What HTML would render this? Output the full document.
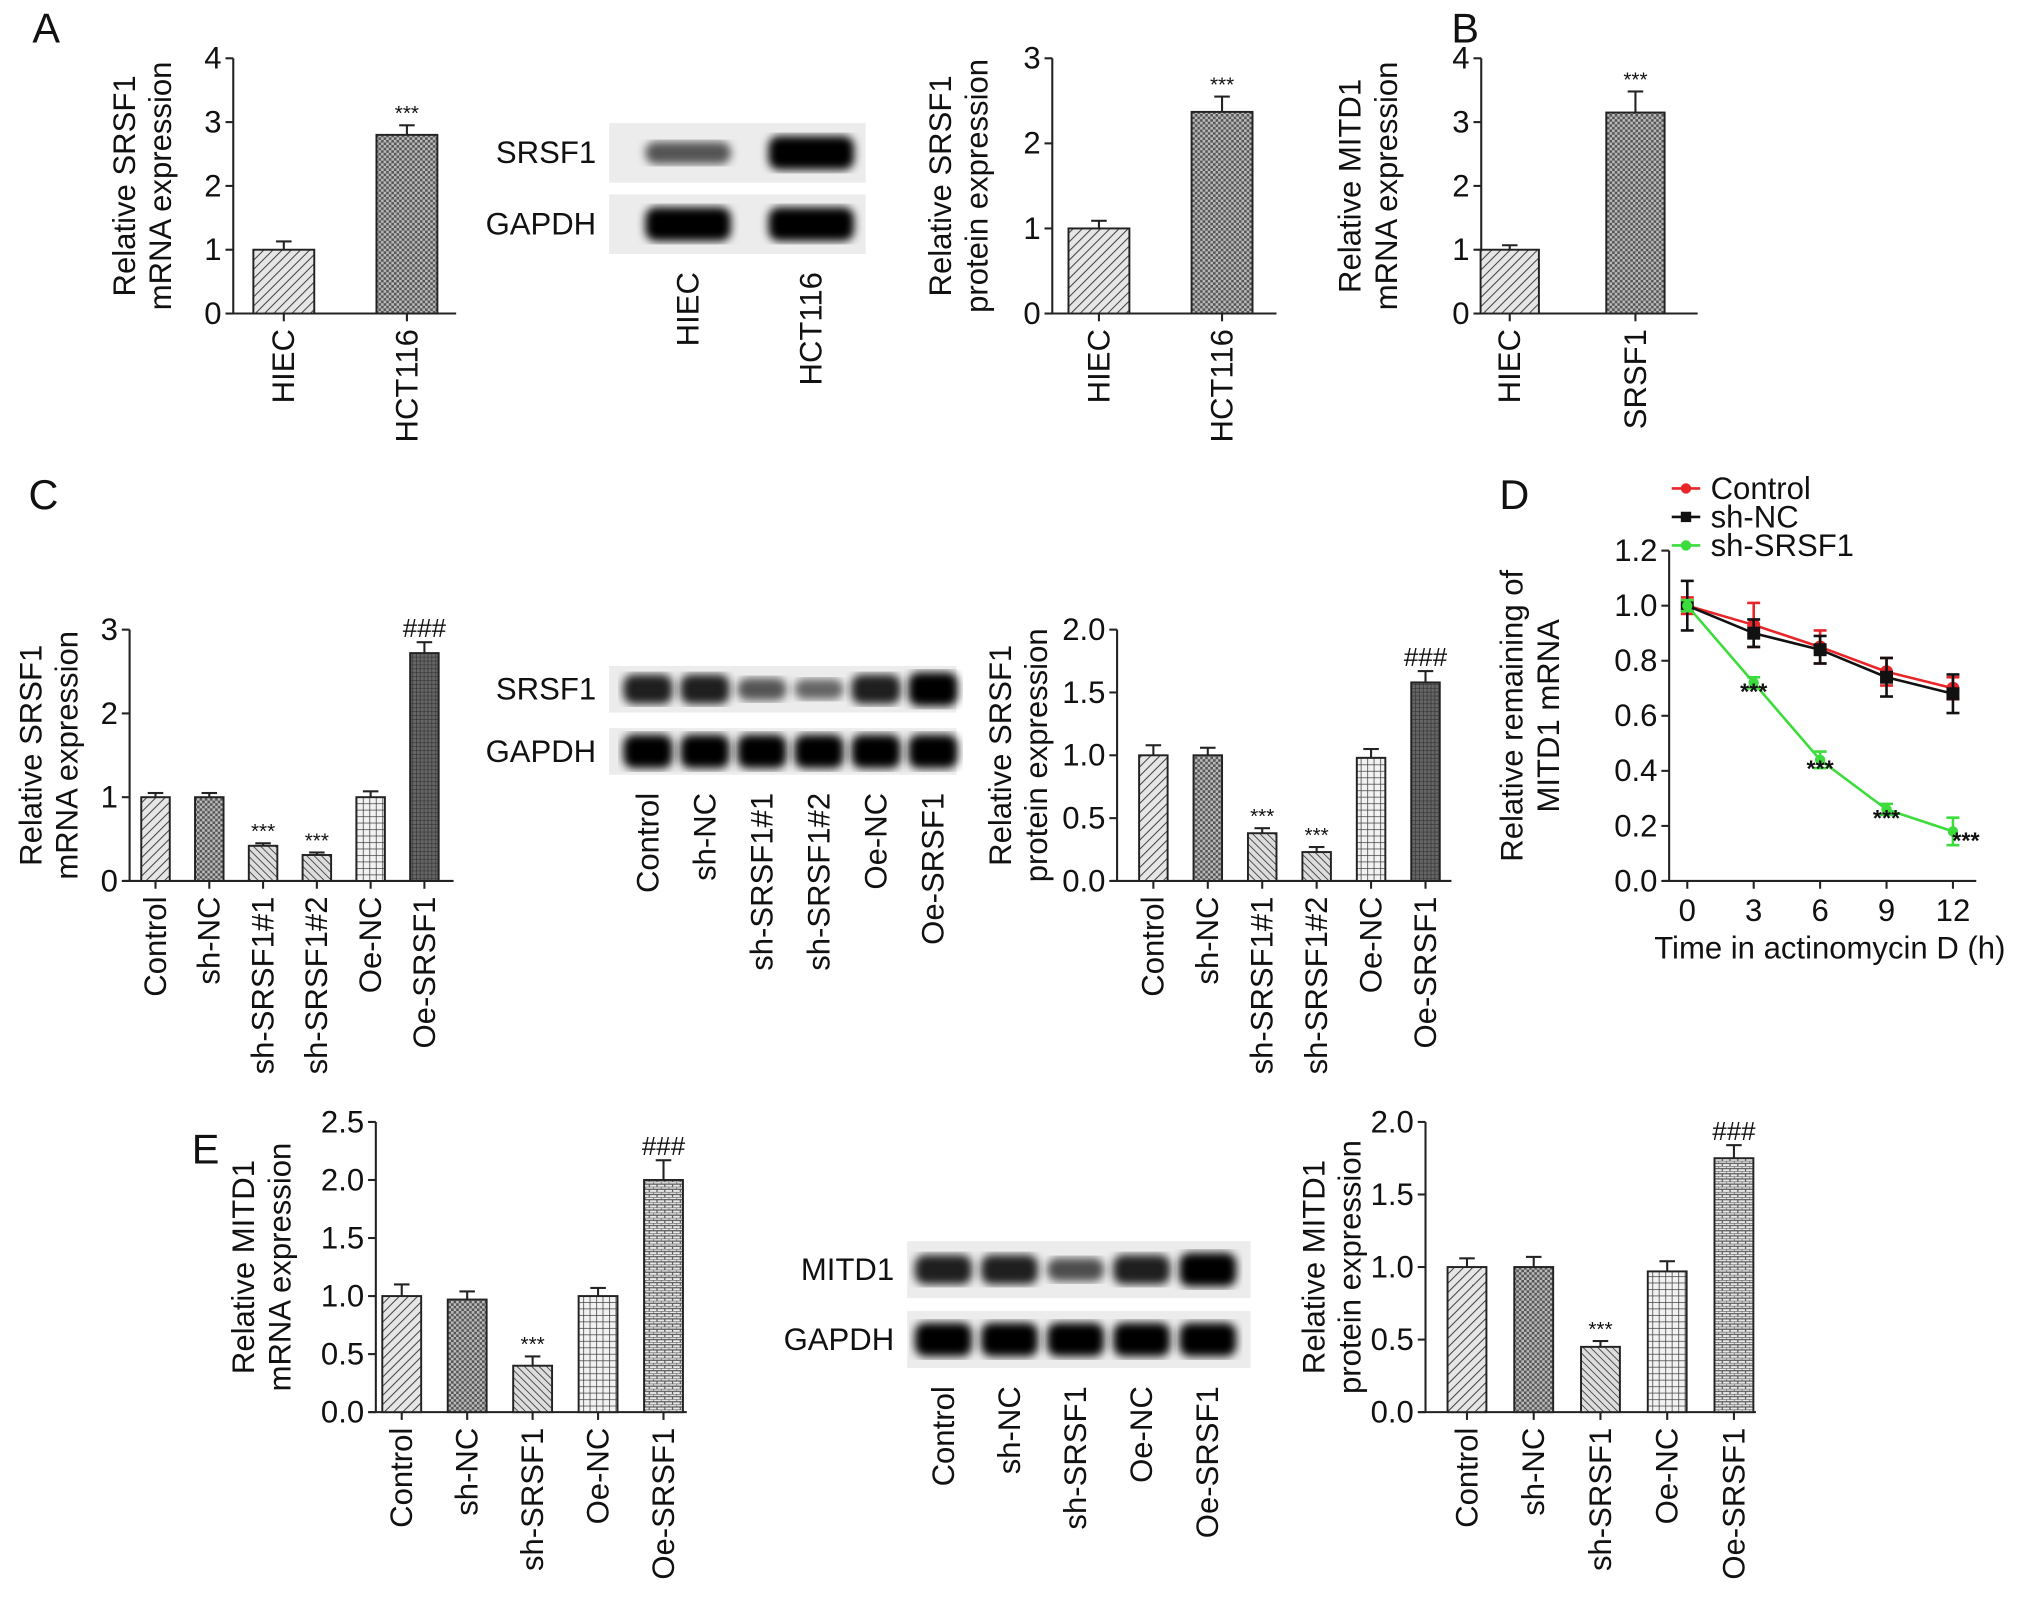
<!DOCTYPE html>
<html><head><meta charset="utf-8"><style>
html,body{margin:0;padding:0;background:#fff}
svg{display:block}
text{font-family:"Liberation Sans",Arial,sans-serif;fill:#111}
</style></head><body>
<svg id="fig" width="2032" height="1600" viewBox="0 0 1568 1235" preserveAspectRatio="none" xmlns="http://www.w3.org/2000/svg">
<defs>
<pattern id="pDiag" width="5" height="5" patternUnits="userSpaceOnUse" patternTransform="rotate(45)"><rect width="5" height="5" fill="#e6e6e6"/><line x1="0" y1="0" x2="0" y2="5" stroke="#444" stroke-width="1.6"/></pattern>
<pattern id="pDiag2" width="4" height="4" patternUnits="userSpaceOnUse" patternTransform="rotate(-45)"><rect width="4" height="4" fill="#ddd"/><line x1="0" y1="0" x2="0" y2="4" stroke="#444" stroke-width="1.4"/></pattern>
<pattern id="pCheck" width="4" height="4" patternUnits="userSpaceOnUse"><rect width="4" height="4" fill="#555"/><rect width="2" height="2" fill="#bbb"/><rect x="2" y="2" width="2" height="2" fill="#bbb"/></pattern>
<pattern id="pGrid" width="5" height="5" patternUnits="userSpaceOnUse"><rect width="5" height="5" fill="#f2f2f2"/><path d="M0 0H5M0 0V5" stroke="#444" stroke-width="1.2"/></pattern>
<pattern id="pBrick" width="6" height="4" patternUnits="userSpaceOnUse"><rect width="6" height="4" fill="#e8e8e8"/><path d="M0 0H6M0 2H6M0 0V2M3 2V4" stroke="#555" stroke-width="0.9"/></pattern>
<pattern id="pDark" width="3" height="3" patternUnits="userSpaceOnUse"><rect width="3" height="3" fill="#666"/><path d="M0 0H3M0 0V3" stroke="#333" stroke-width="1"/></pattern>
<filter id="blur"><feGaussianBlur stdDeviation="3.5"/></filter>
</defs>
</svg>
<script>
// ---- data ----
const aCats=["HIEC","HCT116"];
const aMrna=[1.0,2.8]; const aMrnaErr=[0.13,0.15];
const aProt=[1.0,2.37]; const aProtErr=[0.09,0.18];
const bCats=["HIEC","SRSF1"];
const bMrna=[1.0,3.15]; const bMrnaErr=[0.07,0.33];
const cCats=["Control","sh-NC","sh-SRSF1#1","sh-SRSF1#2","Oe-NC","Oe-SRSF1"];
const cMrna=[1.0,1.0,0.42,0.31,1.0,2.72]; const cMrnaErr=[0.05,0.05,0.03,0.03,0.07,0.13];
const cProt=[1.0,1.0,0.38,0.23,0.98,1.58]; const cProtErr=[0.08,0.06,0.04,0.04,0.07,0.09];
const cMarks=["","","***","***","","###"];
const eCats=["Control","sh-NC","sh-SRSF1","Oe-NC","Oe-SRSF1"];
const eMrna=[1.0,0.97,0.40,1.0,2.0]; const eMrnaErr=[0.1,0.07,0.08,0.07,0.17];
const eProt=[1.0,1.0,0.45,0.97,1.75]; const eProtErr=[0.06,0.07,0.04,0.07,0.09];
const eMarks=["","","***","","###"];
const dTimes=[0,3,6,9,12];
const dControl=[1.0,0.93,0.85,0.76,0.70]; const dControlErr=[0.03,0.08,0.06,0.05,0.04];
const dShNC=[1.0,0.90,0.84,0.74,0.68]; const dShNCErr=[0.09,0.05,0.05,0.07,0.07];
const dShSRSF1=[1.0,0.72,0.44,0.26,0.18]; const dShSRSF1Err=[0.02,0.02,0.03,0.02,0.05];
const blotA1=[0.45,1.0]; const blotA2=[1.0,1.0];
const blotC1=[0.8,0.8,0.45,0.35,0.8,1.0]; const blotC2=[1,1,1,1,1,1];
const blotE1=[0.8,0.8,0.5,0.8,1.0]; const blotE2=[1,1,1,1,1];

const svg=document.getElementById('fig'); const NS="http://www.w3.org/2000/svg";
const FS=24;
function el(tag,attrs,parent){const e=document.createElementNS(NS,tag);for(const k in attrs)e.setAttribute(k,attrs[k]);(parent||svg).appendChild(e);return e;}
function txt(s,attrs,parent){const t=el('text',attrs,parent);t.textContent=s;return t;}

function letter(s,x,y){const t=txt(s,{x:x,y:y,'font-size':32});

}
letter("A",25,33);letter("B",1120,33);letter("C",22,393);letter("D",1157,393);letter("E",148,898);

function barChart(name,o){
 const g=el('g',{});  
 const y=v=>o.y0-(v/o.max)*(o.y0-o.y1);
 el('line',{x1:o.ax,y1:o.y1,x2:o.ax,y2:o.y0,stroke:'#222','stroke-width':1.6},g);
 el('line',{x1:o.ax-5,y1:o.y0,x2:o.xEnd,y2:o.y0,stroke:'#222','stroke-width':1.6},g);
 o.ticks.forEach(tv=>{el('line',{x1:o.ax-6,y1:y(tv),x2:o.ax,y2:y(tv),stroke:'#222','stroke-width':1.6},g);
  const t=txt(o.fmt(tv),{x:o.ax-9,y:y(tv)+8,'font-size':FS,'text-anchor':'end'},g);
  });
 o.vals.forEach((v,i)=>{const cx=o.first+i*o.step;
  const r=el('rect',{x:cx-o.bw/2,y:y(v),width:o.bw,height:o.y0-y(v),fill:'url(#'+o.pats[i]+')',stroke:'#222','stroke-width':1.5},g);
  
  const ey=y(v+o.err[i]);
  el('line',{x1:cx,y1:y(v),x2:cx,y2:ey,stroke:'#222','stroke-width':1.6},g);
  el('line',{x1:cx-6,y1:ey,x2:cx+6,y2:ey,stroke:'#222','stroke-width':1.6},g);
  el('line',{x1:cx,y1:o.y0,x2:cx,y2:o.y0+6,stroke:'#222','stroke-width':1.6},g);
  const m=o.marks?o.marks[i]:"";
  if(m){const a=txt(m,{x:cx,y:ey-4,'font-size':m[0]=='#'?20:16,'text-anchor':'middle'},g);}
  const lx=cx+8, ly=o.y0+12;
  const l=txt(o.cats[i],{x:lx,y:ly,'font-size':FS,'text-anchor':'end',transform:'rotate(-90 '+lx+' '+ly+')'},g);
  });
 const my=(o.y0+o.y1)/2;
 o.ylab.forEach((s,k)=>{const lx=o.labX+k*28;const t=txt(s,{x:lx,y:my,'font-size':FS,'text-anchor':'middle',transform:'rotate(-90 '+lx+' '+my+')'},g);
  });
}
const i0=v=>String(v), f1=v=>v.toFixed(1);
barChart('chart-a-mrna',{ax:180,y0:242,y1:45,max:4,xEnd:352,first:219,step:95,bw:47,vals:aMrna,err:aMrnaErr,cats:aCats,pats:['pDiag','pCheck'],marks:["","***"],ticks:[0,1,2,3,4],fmt:i0,ylab:["Relative SRSF1","mRNA expression"],labX:104});
barChart('chart-a-protein',{ax:812,y0:242,y1:45,max:3,xEnd:985,first:848,step:95,bw:47,vals:aProt,err:aProtErr,cats:aCats,pats:['pDiag','pCheck'],marks:["","***"],ticks:[0,1,2,3],fmt:i0,ylab:["Relative SRSF1","protein expression"],labX:734});
barChart('chart-b-mrna',{ax:1143,y0:242,y1:45,max:4,xEnd:1310,first:1165,step:97,bw:45,vals:bMrna,err:bMrnaErr,cats:bCats,pats:['pDiag','pCheck'],marks:["","***"],ticks:[0,1,2,3,4],fmt:i0,ylab:["Relative MITD1","mRNA expression"],labX:1050});
barChart('chart-c-mrna',{ax:100,y0:680,y1:486,max:3,xEnd:350,first:120,step:41.5,bw:22,vals:cMrna,err:cMrnaErr,cats:cCats,pats:['pDiag','pCheck','pDiag2','pDiag2','pGrid','pDark'],marks:cMarks,ticks:[0,1,2,3],fmt:i0,ylab:["Relative SRSF1","mRNA expression"],labX:32});
barChart('chart-c-protein',{ax:862,y0:680,y1:486,max:2,xEnd:1120,first:890,step:42,bw:22,vals:cProt,err:cProtErr,cats:cCats,pats:['pDiag','pCheck','pDiag2','pDiag2','pGrid','pDark'],marks:cMarks,ticks:[0,0.5,1,1.5,2],fmt:f1,ylab:["Relative SRSF1","protein expression"],labX:780});
barChart('chart-e-mrna',{ax:290,y0:1090,y1:866,max:2.5,xEnd:530,first:310,step:50.5,bw:30,vals:eMrna,err:eMrnaErr,cats:eCats,pats:['pDiag','pCheck','pDiag2','pGrid','pBrick'],marks:eMarks,ticks:[0,0.5,1,1.5,2,2.5],fmt:f1,ylab:["Relative MITD1","mRNA expression"],labX:196});
barChart('chart-e-protein',{ax:1100,y0:1090,y1:866,max:2,xEnd:1355,first:1132,step:51.5,bw:30,vals:eProt,err:eProtErr,cats:eCats,pats:['pDiag','pCheck','pDiag2','pGrid','pBrick'],marks:eMarks,ticks:[0,0.5,1,1.5,2],fmt:f1,ylab:["Relative MITD1","protein expression"],labX:1022});

function blot(name,o){
 const g=el('g',{});  
 [o.r1,o.r2].forEach((row,k)=>{const ry=k?o.y2:o.y1;
  el('rect',{x:o.x0,y:ry,width:o.x1-o.x0,height:o.h,fill:'#ececec'},g);
  const lab=txt(k?'GAPDH':o.name1,{x:o.x0-10,y:ry+o.h/2+8,'font-size':FS,'text-anchor':'end'},g);
  
  row.forEach((v,i)=>{const cx=o.first+i*o.step;
   const b=el('rect',{x:cx-o.bw/2,y:ry+o.h/2-(5+8*v),width:o.bw,height:10+16*v,rx:8,fill:'#000','fill-opacity':0.35+0.65*v,filter:'url(#blur)'},g);
   });});
 o.cats.forEach((c,i)=>{const cx=o.first+i*o.step+8, ly=o.y2+o.h+14;
  const l=txt(c,{x:cx,y:ly,'font-size':FS,'text-anchor':'end',transform:'rotate(-90 '+cx+' '+ly+')'},g);
  });
}
blot('blot-a',{x0:470,x1:668,y1:95,y2:150,h:46,first:531,step:95,bw:66,r1:blotA1,r2:blotA2,cats:aCats,name1:'SRSF1'});
blot('blot-c',{x0:470,x1:738,y1:514,y2:562,h:36,first:500,step:44,bw:38,r1:blotC1,r2:blotC2,cats:cCats,name1:'SRSF1'});
blot('blot-e',{x0:700,x1:965,y1:958,y2:1012,h:44,first:728,step:51,bw:44,r1:blotE1,r2:blotE2,cats:eCats,name1:'MITD1'});

// Panel D line chart
(function(){
 const g=el('g',{});  
 const ax=1288,y0=680,y1=425,x0=1302,x12=1507;
 const X=t=>x0+t/12*(x12-x0), Y=v=>y0-v/1.2*(y0-y1);
 el('line',{x1:ax,y1:y1,x2:ax,y2:y0,stroke:'#222','stroke-width':1.6},g);
 el('line',{x1:ax-5,y1:y0,x2:1525,y2:y0,stroke:'#222','stroke-width':1.6},g);
 [0,0.2,0.4,0.6,0.8,1.0,1.2].forEach(v=>{el('line',{x1:ax-6,y1:Y(v),x2:ax,y2:Y(v),stroke:'#222','stroke-width':1.6},g);
  const t=txt(v.toFixed(1),{x:ax-9,y:Y(v)+8,'font-size':FS,'text-anchor':'end'},g);});
 dTimes.forEach(t=>{el('line',{x1:X(t),y1:y0,x2:X(t),y2:y0+6,stroke:'#222','stroke-width':1.6},g);
  const l=txt(String(t),{x:X(t),y:y0+31,'font-size':FS,'text-anchor':'middle'},g);});
 const xt=txt('Time in actinomycin D (h)',{x:1412,y:740,'font-size':FS,'text-anchor':'middle'},g);
 const my=(y0+y1)/2;
 ["Relative remaining of","MITD1 mRNA"].forEach((s,k)=>{const lx=1175+k*28;const t=txt(s,{x:lx,y:my,'font-size':FS,'text-anchor':'middle',transform:'rotate(-90 '+lx+' '+my+')'},g);});
 const series=[[dControl,dControlErr,'#e8262a','Control','c'],[dShNC,dShNCErr,'#111','sh-NC','s'],[dShSRSF1,dShSRSF1Err,'#3cdc3c','sh-SRSF1','t']];
 series.forEach(([vals,err,col,name,mk],si)=>{
  const p=el('polyline',{points:vals.map((v,i)=>X(dTimes[i])+','+Y(v)).join(' '),fill:'none',stroke:col,'stroke-width':2},g);
  
  vals.forEach((v,i)=>{const cx=X(dTimes[i]);
   el('line',{x1:cx,y1:Y(v-err[i]),x2:cx,y2:Y(v+err[i]),stroke:col,'stroke-width':2},g);
   el('line',{x1:cx-5,y1:Y(v-err[i]),x2:cx+5,y2:Y(v-err[i]),stroke:col,'stroke-width':2},g);
   el('line',{x1:cx-5,y1:Y(v+err[i]),x2:cx+5,y2:Y(v+err[i]),stroke:col,'stroke-width':2},g);
   const m=mk=='s'?el('rect',{x:cx-5,y:Y(v)-5,width:10,height:10,fill:col},g):el('circle',{cx:cx,cy:Y(v),r:mk=='t'?4:5,fill:col},g);
   
   if(mk=='t'&&i>0){const a=txt('***',{x:cx+(i==4?10:0),y:Y(v)+13,'font-size':18,'text-anchor':'middle','font-weight':'bold'},g);}
  });
  const ly=377+si*22;
  const lg=el('g',{},g);
  el('line',{x1:1290,y1:ly,x2:1312,y2:ly,stroke:col,'stroke-width':2},lg);
  if(mk=='s')el('rect',{x:1297,y:ly-4,width:8,height:8,fill:col},lg);else el('circle',{cx:1301,cy:ly,r:4,fill:col},lg);
  txt(name,{x:1320,y:ly+8,'font-size':FS},lg);
 });
})();
</script>
</body></html>
